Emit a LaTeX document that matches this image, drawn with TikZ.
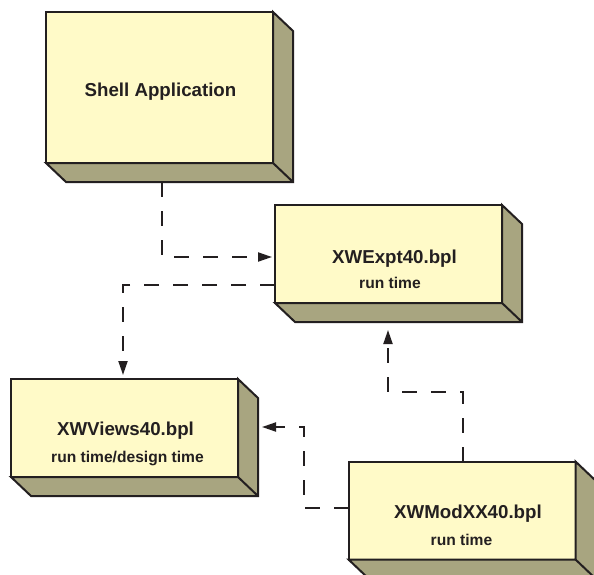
\documentclass[tikz,border=0pt]{standalone}
\usepackage{fontspec}
\setmainfont{Liberation Sans}
\usetikzlibrary{arrows.meta}
\definecolor{facecol}{RGB}{255,250,200}
\definecolor{sidecol}{RGB}{168,165,128}
\definecolor{inkcol}{RGB}{35,31,32}

\tikzset{
  front/.style={draw=inkcol, fill=facecol, line width=2pt, inner sep=0pt, outer sep=0pt,
    minimum width=227pt, minimum height=98pt},
  depthface/.style={draw=inkcol, fill=sidecol, line width=2pt, line join=miter},
  titletext/.style={anchor=base, text=inkcol, font=\bfseries\fontsize{18.7}{22}\selectfont, inner sep=0pt},
  subtext/.style={anchor=base, text=inkcol, font=\bfseries\fontsize{15.6}{19}\selectfont, inner sep=0pt},
  dep/.style={draw=inkcol, line width=2pt, dash pattern=on 15pt off 14pt},
  deparrow/.style={dep, -{Triangle[length=14pt, width=9pt]}}
}

% extruded side and bottom faces of a node box
\newcommand{\nodedepth}[1]{%
  \draw[depthface] (#1.north east) -- ([shift={(20,19)}]#1.north east)
    -- ([shift={(20,19)}]#1.south east) -- ([shift={(20,19)}]#1.south west)
    -- (#1.south west) -- (#1.south east) -- cycle;
  \draw[depthface] (#1.south east) -- ([shift={(20,19)}]#1.south east);
}

\begin{document}
\begin{tikzpicture}[x=1pt, y=-1pt]
\useasboundingbox (0,0) rectangle (594,575);
\clip (0,0) rectangle (594,575);
\fill[white] (0,0) rectangle (594,575);

% deployment nodes
\node[front, minimum height=151pt] (shell) at (159.5,87.5) {};
\nodedepth{shell}
\node[front] (expt) at (388.5,254) {};
\nodedepth{expt}
\node[front] (views) at (124.5,428) {};
\nodedepth{views}
\node[front] (modxx) at (462,510.5) {};
\nodedepth{modxx}

% labels
\node[titletext] (shellT) at (160.5,97) {Shell Application};
\node[titletext] (exptT) at (394.5,263) {XWExpt40.bpl};
\node[subtext] (exptS) at (390,288) {run time};
\node[titletext] (viewsT) at (125.5,435) {XWViews40.bpl};
\node[subtext] (viewsS) at (127.5,462) {run time/design time};
\node[titletext] (modxxT) at (468,518) {XWModXX40.bpl};
\node[subtext] (modxxS) at (461.5,545) {run time};

% dependencies
\coordinate (b1) at (425,392);
\coordinate (b2) at (304,470);
\draw[deparrow] ([shift={(2.5,19)}]shell.south) |- ([shift={(-3,3)}]expt.west);
\draw[deparrow] ([shift={(0,31)}]expt.west) -| ([shift={(-1.5,-4)}]views.north);
\draw[deparrow] ([shift={(1,0)}]modxx.north) |- (b1) -| ([shift={(-0.5,27)}]expt.south);
\draw[deparrow] ([shift={(0,-2.5)}]modxx.west) -| (b2) |- ([shift={(24,-1)}]views.east);
\end{tikzpicture}
\end{document}
